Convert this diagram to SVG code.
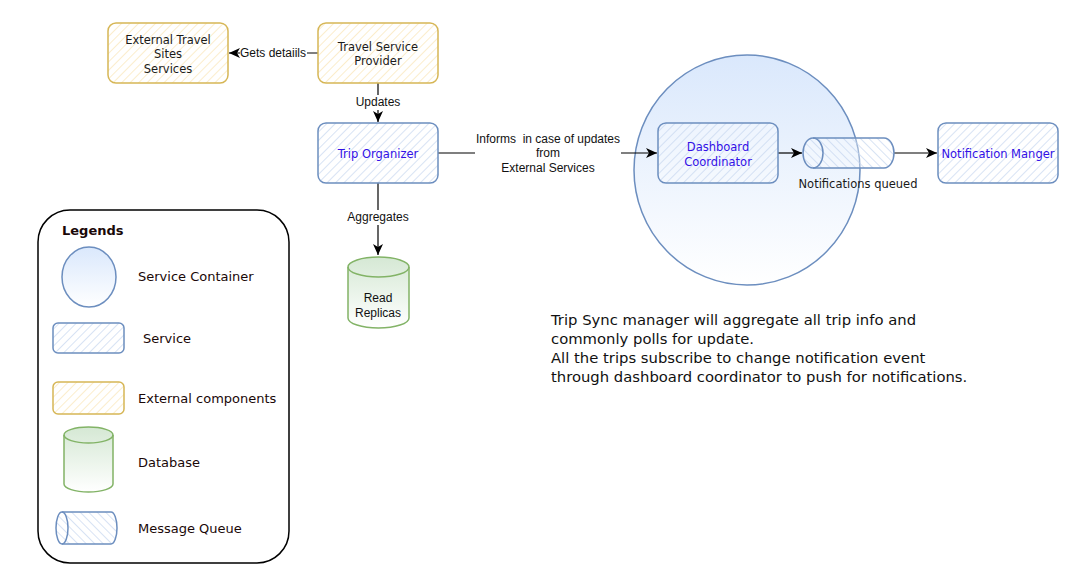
<svg xmlns="http://www.w3.org/2000/svg" width="1072" height="584" viewBox="0 0 1072 584">
<defs>
<style>
.sk{font-family:"DejaVu Sans","Liberation Sans",sans-serif;font-size:11.5px;fill:#1a1a1a;text-anchor:middle}
.bl{fill:#3311e6}
.hv{font-family:"Liberation Sans",Arial,sans-serif;font-size:12px;fill:#111;text-anchor:middle}
.lg{font-family:"DejaVu Sans","Liberation Sans",sans-serif;font-size:13px;fill:#1a0808}
.nt{font-family:"DejaVu Sans","Liberation Sans",sans-serif;font-size:14.8px;fill:#111}
.svc{fill:url(#hb);stroke:#6c8ebf;stroke-width:1.5}
.ext{fill:url(#hy);stroke:#d6b656;stroke-width:1.5}
.db{fill:url(#gg);stroke:#82b366;stroke-width:1.5}
.mq{fill:url(#hq);stroke:#6c8ebf;stroke-width:1.5}
.ln{fill:none;stroke:#000;stroke-width:1.2}
.lbg{fill:#fff}
</style>
<pattern id="hb" width="6" height="6" patternUnits="userSpaceOnUse" patternTransform="rotate(45)">
<rect width="6" height="6" fill="#fff" fill-opacity="0.35"/>
<line x1="0" y1="0" x2="0" y2="6" stroke="#c3d4ee" stroke-width="1.3"/>
</pattern>
<pattern id="hq" width="6" height="6" patternUnits="userSpaceOnUse" patternTransform="rotate(-45)">
<rect width="6" height="6" fill="#fff" fill-opacity="0.35"/>
<line x1="0" y1="0" x2="0" y2="6" stroke="#c3d4ee" stroke-width="1.3"/>
</pattern>
<pattern id="hy" width="6" height="6" patternUnits="userSpaceOnUse" patternTransform="rotate(45)">
<rect width="6" height="6" fill="#fff"/>
<line x1="0" y1="0" x2="0" y2="6" stroke="#f9e4b0" stroke-width="1.3"/>
</pattern>
<linearGradient id="gb" x1="0" y1="0" x2="0" y2="1">
<stop offset="0" stop-color="#dae8fc"/>
<stop offset="1" stop-color="#ffffff"/>
</linearGradient>
<linearGradient id="gg" x1="0" y1="0" x2="0" y2="1">
<stop offset="0" stop-color="#d5e8d4"/>
<stop offset="1" stop-color="#ffffff"/>
</linearGradient>
<marker id="ar" markerUnits="userSpaceOnUse" markerWidth="12" markerHeight="10" refX="11" refY="5" orient="auto">
<path d="M0,0 L11,5 L0,10 L3,5 z" fill="#000"/>
</marker>
</defs>
<rect width="1072" height="584" fill="#fff"/>

<g id="service-container">
<ellipse cx="747" cy="170" rx="113" ry="115" fill="url(#gb)" stroke="#6c8ebf" stroke-width="1.5"/>
</g>

<g id="connectors">
<path class="ln" d="M318,53 H229" marker-end="url(#ar)"/>
<rect class="lbg" x="240" y="46" width="67" height="15"/>
<text class="hv" x="273" y="57">Gets detaiils</text>
<path class="ln" d="M378,83 V122" marker-end="url(#ar)"/>
<rect class="lbg" x="355" y="95" width="46" height="15"/>
<text class="hv" x="378" y="106">Updates</text>
<path class="ln" d="M378,183 V255" marker-end="url(#ar)"/>
<rect class="lbg" x="346" y="210" width="64" height="15"/>
<text class="hv" x="378" y="221">Aggregates</text>
<path class="ln" d="M438,153 H657" marker-end="url(#ar)"/>
<rect class="lbg" x="475" y="132" width="146" height="44"/>
<text class="hv" x="548" y="143" xml:space="preserve">Informs  in case of updates</text>
<text class="hv" x="548" y="157">from</text>
<text class="hv" x="548" y="172">External Services</text>
<path class="ln" d="M778,153 H802" marker-end="url(#ar)"/>
<path class="ln" d="M894,153 H937" marker-end="url(#ar)"/>
</g>

<g id="external-travel-sites">
<rect class="ext" x="108" y="23" width="120" height="60" rx="8"/>
<text class="sk" x="168" y="44">External Travel</text>
<text class="sk" x="168" y="58">Sites</text>
<text class="sk" x="168" y="73">Services</text>
</g>

<g id="travel-service-provider">
<rect class="ext" x="318" y="23" width="120" height="60" rx="8"/>
<text class="sk" x="378" y="51">Travel Service</text>
<text class="sk" x="378" y="65">Provider</text>
</g>

<g id="trip-organizer">
<rect class="svc" x="318" y="123" width="120" height="60" rx="8"/>
<text class="sk bl" x="378" y="158">Trip Organizer</text>
</g>

<g id="read-replicas">
<path class="db" d="M348,267 a30.5,10 0 0,1 61,0 v51 a30.5,10 0 0,1 -61,0 z"/>
<path fill="none" stroke="#82b366" stroke-width="1.5" d="M348,267 a30.5,10 0 0,0 61,0"/>
<text class="hv" x="378" y="302">Read</text>
<text class="hv" x="378" y="317">Replicas</text>
</g>

<g id="dashboard-coordinator">
<rect class="svc" x="658" y="123" width="120" height="60" rx="8"/>
<text class="sk bl" x="718" y="151">Dashboard</text>
<text class="sk bl" x="718" y="166">Coordinator</text>
</g>

<g id="notification-queue">
<path class="mq" d="M813,138 h71 a10,15 0 0,1 0,30 h-71 a10,15 0 0,1 0,-30 z"/>
<path fill="none" stroke="#6c8ebf" stroke-width="1.5" d="M813,138 a10,15 0 0,1 0,30"/>
<text class="sk" x="858" y="188">Notifications queued</text>
</g>

<g id="notification-manager">
<rect class="svc" x="938" y="123" width="120" height="60" rx="8"/>
<text class="sk bl" x="998" y="158">Notification Manger</text>
</g>

<g id="note">
<text class="nt" x="551" y="325">Trip Sync manager will aggregate all trip info and</text>
<text class="nt" x="551" y="344">commonly polls for update.</text>
<text class="nt" x="551" y="363">All the trips subscribe to change notification event</text>
<text class="nt" x="551" y="382">through dashboard coordinator to push for notifications.</text>
</g>

<g id="legend">
<rect x="38" y="210" width="251" height="353" rx="32" fill="#fff" stroke="#000" stroke-width="1.5"/>
<text class="lg" style="font-weight:bold" x="62" y="235">Legends</text>
<ellipse cx="89" cy="277" rx="27" ry="30" fill="url(#gb)" stroke="#6c8ebf" stroke-width="1.5"/>
<text class="lg" x="138" y="281">Service Container</text>
<rect class="svc" x="53" y="323" width="71" height="30" rx="5"/>
<text class="lg" x="143" y="343">Service</text>
<rect class="ext" x="53" y="382" width="71" height="32" rx="5"/>
<text class="lg" x="138" y="403">External components</text>
<path class="db" d="M64,435 a24.5,8 0 0,1 49,0 v49 a24.5,8 0 0,1 -49,0 z"/>
<path fill="none" stroke="#82b366" stroke-width="1.5" d="M64,435 a24.5,8 0 0,0 49,0"/>
<text class="lg" x="138" y="467">Database</text>
<path class="mq" d="M62,512 h49 a6,16 0 0,1 0,32 h-49 a6,16 0 0,1 0,-32 z"/>
<path fill="none" stroke="#6c8ebf" stroke-width="1.5" d="M62,512 a6,16 0 0,1 0,32"/>
<text class="lg" x="138" y="533">Message Queue</text>
</g>
</svg>
